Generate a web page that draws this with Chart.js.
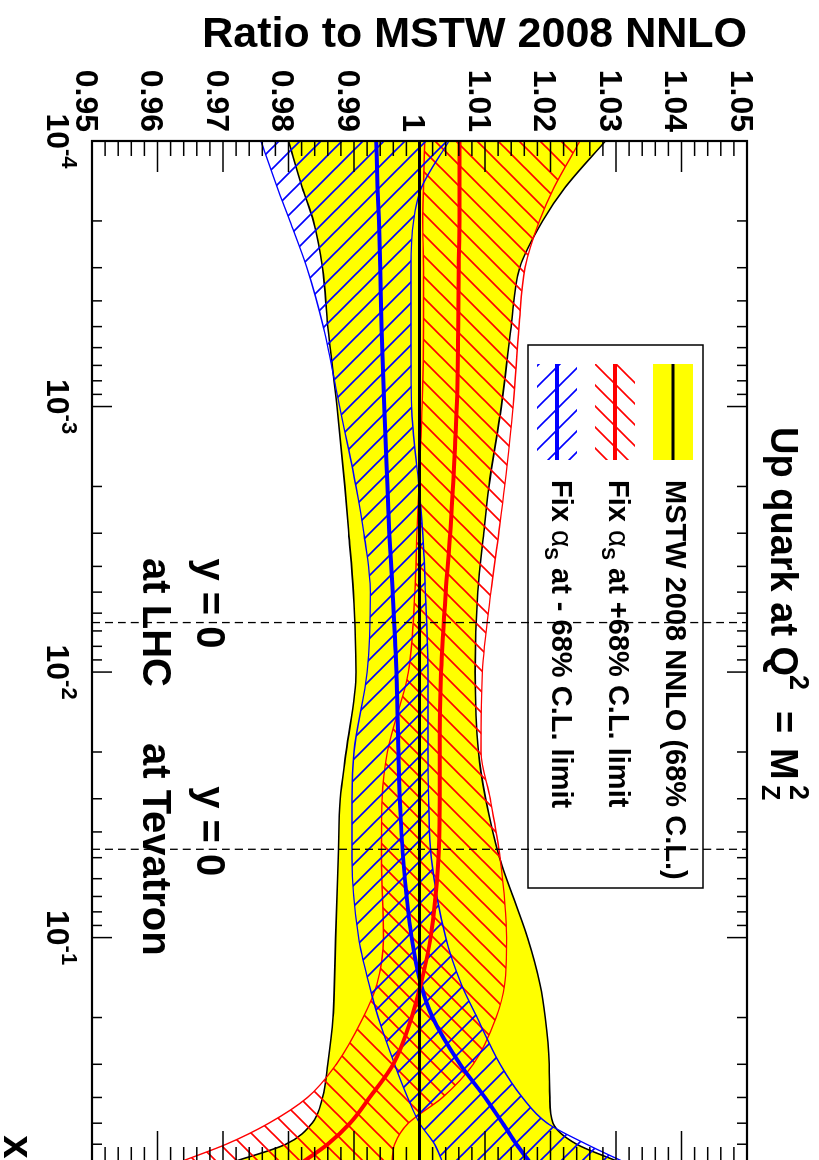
<!DOCTYPE html>
<html>
<head>
<meta charset="utf-8">
<title>Up quark at Q2 = MZ2 - ratio to MSTW 2008 NNLO</title>
<script src="https://cdn.jsdelivr.net/npm/chart.js@4.4.1/dist/chart.umd.min.js"></script>
<style>
  html, body { margin: 0; padding: 0; background: #fff; overflow: hidden; }
  body { width: 819px; height: 1160px; position: relative; }
  /* the plot is drawn landscape, then turned a quarter clockwise like the original figure */
  #wrap { position: absolute; left: 0; top: 0; width: 1164px; height: 819px;
          transform-origin: 0 0; transform: translateX(819px) rotate(90deg); }
  canvas { display: block; }
</style>
</head>
<body>
<div id="wrap"><canvas id="ratioChart" width="1164" height="819"></canvas></div>
<script>
const xPoints = [0.0001, 0.00015, 0.0002, 0.0003, 0.0005, 0.001, 0.002, 0.003, 0.005, 0.01,
                 0.02, 0.03, 0.05, 0.1, 0.15, 0.2, 0.3, 0.4, 0.5, 0.6, 0.7];

// MSTW 2008 NNLO 68% C.L. band (yellow)
const mstwLow  = [0.9800, 0.9821, 0.9838, 0.9852, 0.9860, 0.9874, 0.9886, 0.9892, 0.9899, 0.9903,
                  0.9888, 0.9879, 0.9876, 0.9872, 0.9870, 0.9868, 0.9860, 0.9852, 0.9836, 0.9796, 0.9715];
const mstwHigh = [1.0284, 1.0222, 1.0188, 1.0153, 1.0140, 1.0125, 1.0106, 1.0098, 1.0089, 1.0085,
                  1.0090, 1.0101, 1.0122, 1.0165, 1.0184, 1.0192, 1.0198, 1.0199, 1.0204, 1.0240, 1.0305];

// fixed alpha_S at +68% C.L. (red)
const upMid  = [1.0061, 1.0061, 1.0061, 1.0060, 1.0059, 1.0057, 1.0051, 1.0047, 1.0040, 1.0033,
                1.0031, 1.0031, 1.0029, 1.0017, 1.0002, 0.9988, 0.9960, 0.9924, 0.9894, 0.9860, 0.9822];
const upLow  = [1.0008, 1.0006, 1.0005, 1.0006, 1.0006, 1.0004, 0.9999, 0.9996, 0.9993, 0.9983,
                0.9951, 0.9943, 0.9942, 0.9945, 0.9935, 0.9914, 0.9873, 0.9829, 0.9770, 0.9705, 0.9634];
const upHigh = [1.0245, 1.0205, 1.0183, 1.0161, 1.0152, 1.0143, 1.0130, 1.0121, 1.0109, 1.0096,
                1.0094, 1.0108, 1.0123, 1.0133, 1.0130, 1.0117, 1.0082, 1.0035, 0.9983, 0.9962, 0.9958];

// fixed alpha_S at -68% C.L. (blue)
const downMid  = [0.9934, 0.9936, 0.9938, 0.9940, 0.9942, 0.9946, 0.9951, 0.9954, 0.9959, 0.9965,
                  0.9968, 0.9970, 0.9975, 0.9988, 1.0002, 1.0020, 1.0062, 1.0100, 1.0127, 1.0148, 1.0168];
const downLow  = [0.9758, 0.9783, 0.9802, 0.9828, 0.9853, 0.9878, 0.9903, 0.9915, 0.9925, 0.9920,
                  0.9900, 0.9897, 0.9897, 0.9907, 0.9923, 0.9937, 0.9962, 0.9982, 1.0000, 1.0023, 1.0035];
const downHigh = [1.0045, 1.0003, 0.9991, 0.9987, 0.9987, 0.9988, 0.9999, 1.0005, 1.0009, 1.0013,
                  1.0013, 1.0014, 1.0018, 1.0040, 1.0064, 1.0088, 1.0123, 1.0157, 1.0195, 1.0255, 1.0312];

// axes
const xMin = 0.0001, xMax = 0.7;
const yMin = 0.95, yMax = 1.05;
const xTickExponents = [-4, -3, -2, -1];
const yTickValues = [0.95, 0.96, 0.97, 0.98, 0.99, 1, 1.01, 1.02, 1.03, 1.04, 1.05];
const yTickLabels = ['0.95', '0.96', '0.97', '0.98', '0.99', '1', '1.01', '1.02', '1.03', '1.04', '1.05'];

// y = 0 production at the two colliders (x = MZ / sqrt(s))
const xLHC = 0.00651;
const xTevatron = 0.0465;

const FONT = '"Liberation Sans", Arial, Helvetica, sans-serif';
const YELLOW = '#ffff00', RED = '#ff0000', BLUE = '#0000ff';

function hatch(color, slash, period) {
  const c = document.createElement('canvas');
  c.width = period; c.height = period;
  const g = c.getContext('2d');
  g.strokeStyle = color;
  g.lineWidth = 1.6;
  g.beginPath();
  if (slash) {
    g.moveTo(-2, period + 2); g.lineTo(period + 2, -2);
    g.moveTo(-2, 2); g.lineTo(2, -2);
    g.moveTo(period - 2, period + 2); g.lineTo(period + 2, period - 2);
  } else {
    g.moveTo(-2, -2); g.lineTo(period + 2, period + 2);
    g.moveTo(period - 2, -2); g.lineTo(period + 2, 2);
    g.moveTo(-2, period - 2); g.lineTo(2, period + 2);
  }
  g.stroke();
  return g.createPattern(c, 'repeat');
}
const redHatch = hatch(RED, true, 21);
const blueHatch = hatch(BLUE, false, 21);

const pts = ys => xPoints.map((x, i) => ({ x: x, y: ys[i] }));
const vline = xv => [{ x: xv, y: yMin }, { x: xv, y: yMax }];

function text(ctx, s, x, y, size, align, weight) {
  ctx.font = (weight || 'bold') + ' ' + size + 'px ' + FONT;
  ctx.textAlign = align || 'left';
  ctx.textBaseline = 'alphabetic';
  ctx.fillText(s, x, y);
  return ctx.measureText(s).width;
}

// axes frame, inward ticks, labels, legend and annotations
const decorations = {
  id: 'decorations',
  afterDraw(chart) {
    const ctx = chart.ctx, a = chart.chartArea;
    const xs = chart.scales.x, ys = chart.scales.y;
    ctx.save();
    ctx.fillStyle = '#000';
    ctx.strokeStyle = '#000';
    const seg = (x1, y1, x2, y2) => { ctx.beginPath(); ctx.moveTo(x1, y1); ctx.lineTo(x2, y2); ctx.stroke(); };

    // ticks
    ctx.lineWidth = 1.5;
    for (let i = 0; i <= 50; i++) {
      const py = ys.getPixelForValue(yMin + i * 0.002);
      const len = i % 5 === 0 ? 31 : 15;
      seg(a.left, py, a.left + len, py);
      seg(a.right, py, a.right - len, py);
    }
    for (let e = -4; e <= -1; e++) {
      for (let m = 1; m <= 9; m++) {
        const v = m * Math.pow(10, e);
        if (v > xMax * 0.9999) continue;
        const px = xs.getPixelForValue(v);
        const len = m === 1 ? 20 : 10;
        seg(px, a.bottom, px, a.bottom - len);
        seg(px, a.top, px, a.top + len);
      }
    }
    ctx.lineWidth = 2.2;
    ctx.strokeRect(a.left, a.top, a.right - a.left, a.bottom - a.top);

    // tick labels
    yTickValues.forEach((v, i) => {
      text(ctx, yTickLabels[i], a.left - 9, ys.getPixelForValue(v) + 16, 32, 'right');
    });
    xTickExponents.forEach(e => {
      const px = xs.getPixelForValue(Math.pow(10, e));
      ctx.font = 'bold 32px ' + FONT;
      const wb = ctx.measureText('10').width;
      ctx.font = 'bold 22px ' + FONT;
      const we = ctx.measureText(String(e)).width;
      const x0 = px - (wb + we) / 2;
      text(ctx, '10', x0, a.bottom + 45, 32);
      text(ctx, String(e), x0 + wb, a.bottom + 30, 22);
    });
    text(ctx, 'x', 1147, 815, 42, 'center');

    // axis title
    ctx.save();
    ctx.translate(47, a.top);
    ctx.rotate(-Math.PI / 2);
    text(ctx, 'Ratio to MSTW 2008 NNLO', 0, 0, 43, 'right');
    ctx.restore();

    // title
    text(ctx, 'Up quark at Q', 427, 48, 38);
    text(ctx, '2', 675, 29, 27);
    text(ctx, '=', 711, 48, 38);
    text(ctx, 'M', 748, 48, 38);
    text(ctx, '2', 785, 29, 27);
    text(ctx, 'Z', 785, 57, 25);

    // collider annotations
    const pl = xs.getPixelForValue(xLHC), pt = xs.getPixelForValue(xTevatron);
    text(ctx, 'y = 0', pl + 26, 622, 40, 'right');
    text(ctx, 'at LHC', pl, 676, 40, 'center');
    text(ctx, 'y = 0', pt + 27, 622, 40, 'right');
    text(ctx, 'at Tevatron', pt, 676, 40, 'center');

    // legend
    ctx.lineWidth = 1.5;
    ctx.strokeRect(345, 116, 543, 175);
    const rows = [
      { c: 146, fill: YELLOW, line: '#000', lw: 3 },
      { c: 204, fill: redHatch, line: RED, lw: 4 },
      { c: 262, fill: blueHatch, line: BLUE, lw: 4 }
    ];
    rows.forEach(r => {
      ctx.fillStyle = r.fill;
      ctx.fillRect(364, r.c - 20, 96, 40);
      ctx.strokeStyle = r.line;
      ctx.lineWidth = r.lw;
      seg(364, r.c, 460, r.c);
    });
    ctx.fillStyle = '#000';
    text(ctx, 'MSTW 2008 NNLO (68% C.L.)', 480, 153, 29);
    [[210, '+68% C.L. limit'], [267, '- 68% C.L. limit']].forEach(([b, s]) => {
      let x = 480;
      x += text(ctx, 'Fix ', x, b, 29);
      x += text(ctx, '\u03b1', x, b, 30, 'left', 'normal');
      x += text(ctx, 'S', x, b + 7, 19);
      text(ctx, ' at ' + s, x, b, 29);
    });
    ctx.restore();
  }
};

new Chart(document.getElementById('ratioChart'), {
  type: 'line',
  data: {
    datasets: [
      { label: 'MSTW low', data: pts(mstwLow), borderColor: '#000', borderWidth: 1.6, fill: false, order: 10 },
      { label: 'MSTW 2008 NNLO (68% C.L.)', data: pts(mstwHigh), borderColor: '#000', borderWidth: 1.6,
        backgroundColor: YELLOW, fill: '-1', order: 10 },
      { label: 'alphaS +68% low', data: pts(upLow), borderColor: RED, borderWidth: 1.4, fill: false, order: 6 },
      { label: 'Fix alphaS at +68% C.L. limit', data: pts(upHigh), borderColor: RED, borderWidth: 1.4,
        backgroundColor: redHatch, fill: '-1', order: 6 },
      { label: 'alphaS -68% low', data: pts(downLow), borderColor: BLUE, borderWidth: 1.4, fill: false, order: 5 },
      { label: 'Fix alphaS at -68% C.L. limit', data: pts(downHigh), borderColor: BLUE, borderWidth: 1.4,
        backgroundColor: blueHatch, fill: '-1', order: 5 },
      { label: 'alphaS +68% central', data: pts(upMid), borderColor: RED, borderWidth: 4, fill: false, order: 2 },
      { label: 'alphaS -68% central', data: pts(downMid), borderColor: BLUE, borderWidth: 4, fill: false, order: 2 },
      { label: 'MSTW central', data: [{ x: xMin, y: 1 }, { x: xMax, y: 1 }], borderColor: '#000', borderWidth: 3,
        fill: false, order: 1 },
      { label: 'LHC y=0', data: vline(xLHC), borderColor: '#000', borderWidth: 1.3, borderDash: [8, 5],
        fill: false, order: 0 },
      { label: 'Tevatron y=0', data: vline(xTevatron), borderColor: '#000', borderWidth: 1.3, borderDash: [8, 5],
        fill: false, order: 0 }
    ]
  },
  options: {
    responsive: false,
    animation: false,
    events: [],
    layout: { padding: { left: 141, top: 72, right: 2, bottom: 92 } },
    elements: {
      point: { radius: 0 },
      line: { cubicInterpolationMode: 'monotone' }
    },
    scales: {
      x: { type: 'logarithmic', min: xMin, max: xMax, display: false },
      y: { type: 'linear', min: yMin, max: yMax, display: false }
    },
    plugins: {
      legend: { display: false },
      tooltip: { enabled: false }
    }
  },
  plugins: [decorations]
});
</script>
</body>
</html>
